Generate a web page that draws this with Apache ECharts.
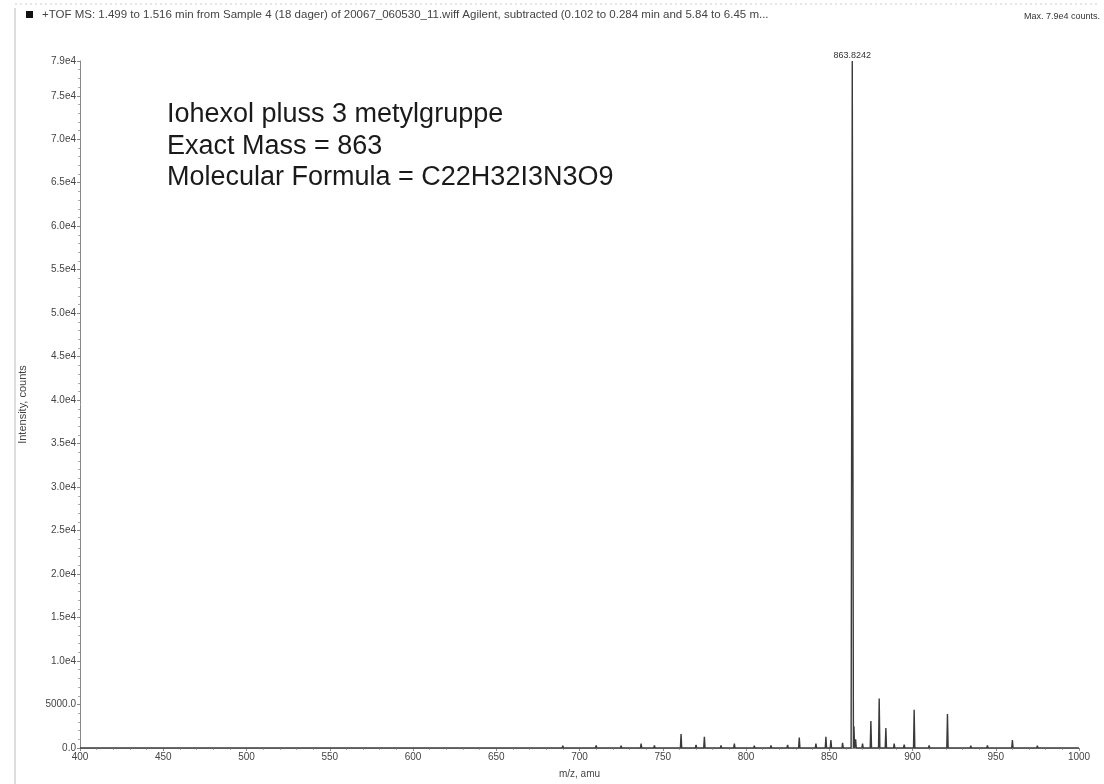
<!DOCTYPE html>
<html><head><meta charset="utf-8">
<script src="https://cdn.jsdelivr.net/npm/echarts@6/dist/echarts.min.js"></script>
<style>html,body{margin:0;padding:0;background:#fff}#c{width:1104px;height:784px}</style>
</head><body><div id="c"></div>
<script>
// Peaks (m/z, counts)
const peakMz = [430, 455, 480, 520, 560, 600, 640, 690, 710, 725, 737, 745, 761, 770, 775, 785, 793, 805, 815, 825, 832, 842, 848, 851, 858, 863.8242, 864.83, 865.83, 870, 875, 880, 884, 889, 895, 901, 910, 921, 935, 945, 960, 975, 990];
const peakIntensity = [200, 150, 200, 150, 200, 150, 200, 250, 300, 250, 500, 300, 1600, 350, 1300, 300, 500, 250, 300, 350, 1200, 500, 1300, 900, 600, 79000, 2500, 1000, 500, 3100, 5700, 2300, 500, 400, 4400, 300, 3900, 250, 300, 900, 250, 200];
const xTickValues = [400, 450, 500, 550, 600, 650, 700, 750, 800, 850, 900, 950, 1000];
const headerText = '+TOF MS: 1.499 to 1.516 min from Sample 4 (18 dager) of 20067_060530_11.wiff Agilent, subtracted (0.102 to 0.284 min and 5.84 to 6.45 m...';
const maxText = 'Max. 7.9e4 counts.';
const annotationLines = ['Iohexol pluss 3 metylgruppe', 'Exact Mass = 863', 'Molecular Formula = C22H32I3N3O9'];
const labelPeakIndex = 25;

const lineData = [[xTickValues[0], 0]];
peakMz.forEach((m, i) => {
  const hw = i === labelPeakIndex ? 0.7 : 0.4;
  lineData.push([m - hw, 0], [m, peakIntensity[i]], [m + hw, 0]);
});
lineData.push([xTickValues[xTickValues.length - 1], 0]);

function yFmt(v) {
  if (v === 0) return '0.0';
  if (v < 10000) return v.toFixed(1);
  return (v / 10000).toFixed(1) + 'e4';
}

const chart = echarts.init(document.getElementById('c'), null, {renderer: 'canvas'});
const font = 'Liberation Sans, Arial, sans-serif';
chart.setOption({
  animation: false,
  backgroundColor: '#fff',
  grid: {left: 80, right: 25, top: 61, bottom: 35},
  xAxis: {
    type: 'value', min: 400, max: 1000, interval: 50,
    name: 'm/z, amu', nameLocation: 'middle', nameGap: 21,
    nameTextStyle: {fontSize: 10, color: '#444', fontFamily: font},
    axisLine: {lineStyle: {color: '#888', width: 1}},
    axisTick: {show: true, length: 3, lineStyle: {color: '#888'}},
    minorTick: {show: true, splitNumber: 5, length: 2, lineStyle: {color: '#aaa'}},
    axisLabel: {fontSize: 10, color: '#444', fontFamily: font, margin: 4, formatter: v => String(v)},
    splitLine: {show: false}
  },
  yAxis: {
    type: 'value', min: 0, max: 79000, interval: 5000,
    name: 'Intensity, counts', nameLocation: 'middle', nameGap: 52,
    nameTextStyle: {fontSize: 11, color: '#444', fontFamily: font},
    axisLine: {show: true, lineStyle: {color: '#888', width: 1}},
    axisTick: {show: true, length: 3, lineStyle: {color: '#888'}},
    minorTick: {show: true, splitNumber: 5, length: 2, lineStyle: {color: '#aaa'}},
    axisLabel: {fontSize: 10, color: '#444', fontFamily: font, margin: 4, formatter: yFmt},
    splitLine: {show: false}
  },
  series: [{
    type: 'line', data: lineData, showSymbol: false, symbol: 'none',
    lineStyle: {color: '#3a3a3a', width: 1.4},
    markPoint: {
      symbol: 'circle', symbolSize: 0,
      data: [{coord: [peakMz[labelPeakIndex], peakIntensity[labelPeakIndex]], value: peakMz[labelPeakIndex].toFixed(4)}],
      label: {show: true, position: 'top', distance: 1, fontSize: 9, color: '#333', fontFamily: font, formatter: p => p.value}
    }
  }],
  graphic: [
    {type: 'line', shape: {x1: 15, y1: 4, x2: 1100, y2: 4}, style: {stroke: '#ccc', lineWidth: 1, lineDash: [2, 3]}},
    {type: 'line', shape: {x1: 15, y1: 8, x2: 15, y2: 784}, style: {stroke: '#bbb', lineWidth: 1}},
    {type: 'rect', shape: {x: 26, y: 11, width: 7, height: 7}, style: {fill: '#111'}},
    {type: 'text', x: 42, y: 15, style: {text: headerText, fontSize: 11.5, fill: '#444', fontFamily: font, verticalAlign: 'middle'}},
    {type: 'text', x: 1100, y: 17, style: {text: maxText, fontSize: 9, fill: '#333', fontFamily: font, align: 'right', verticalAlign: 'middle'}},
    {type: 'text', x: 167, y: 115, style: {text: annotationLines[0], fontSize: 27, fill: '#1a1a1a', fontFamily: font, verticalAlign: 'middle'}},
    {type: 'text', x: 167, y: 147, style: {text: annotationLines[1], fontSize: 27, fill: '#1a1a1a', fontFamily: font, verticalAlign: 'middle'}},
    {type: 'text', x: 167, y: 178, style: {text: annotationLines[2], fontSize: 27, fill: '#1a1a1a', fontFamily: font, verticalAlign: 'middle'}}
  ]
});
</script></body></html>
